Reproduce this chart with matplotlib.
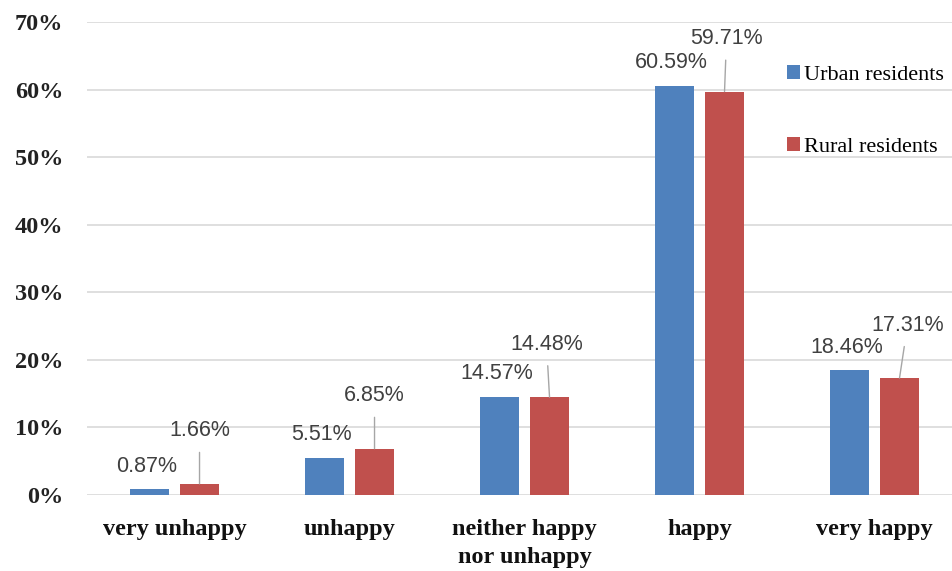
import numpy as np
import matplotlib
matplotlib.use("Agg")
import matplotlib.pyplot as plt

# data
categories = ["very unhappy", "unhappy", "neither happy\nnor unhappy", "happy", "very happy"]
urban = [0.87, 5.51, 14.57, 60.59, 18.46]
rural = [1.66, 6.85, 14.48, 59.71, 17.31]
y_ticks = [0, 10, 20, 30, 40, 50, 60, 70]

blue = "#4F81BD"
red = "#C0504D"

fig = plt.figure(figsize=(9.52, 5.71), dpi=100)
ax = fig.add_axes([87 / 952, 76 / 571, 875 / 952, 473 / 571])

x = np.arange(len(categories))
w = 0.22
off = 0.143
ax.bar(x - off, urban, w, color=blue, label="Urban residents", zorder=3)
ax.bar(x + off, rural, w, color=red, label="Rural residents", zorder=3)

# value labels: urban just above, rural higher with a leader line
for xi, v in zip(x, urban):
    ax.annotate(f"{v:.2f}%", (xi - off, v), xytext=(-3, 23), textcoords="offset pixels",
                ha="center", va="center", fontsize=15.5, family="Liberation Sans", color="#404040")
rural_dx = [0, 0, -3, 2, 8]
for xi, v, dx in zip(x, rural, rural_dx):
    ax.annotate(f"{v:.2f}%", (xi + off, v), xytext=(dx, 53), textcoords="offset pixels",
                ha="center", va="center", fontsize=15.5, family="Liberation Sans", color="#404040",
                arrowprops=dict(arrowstyle="-", color="#a6a6a6", lw=1, shrinkA=6, shrinkB=0))

ax.set_xlim(-0.5, len(categories) - 0.5)
ax.set_ylim(0, 70)
ax.set_yticks(y_ticks)
ax.set_yticklabels([f"{t}%" for t in y_ticks], family="Liberation Serif", fontsize=17.5, fontweight="bold",
                   color="#222222")
ax.set_xticks(x)
ax.set_xticklabels(categories, family="Liberation Serif", fontsize=17.5, fontweight="bold",
                   color="#111111", linespacing=1.45)
ax.tick_params(axis="y", length=0, pad=17)
ax.tick_params(axis="x", length=0, pad=17)
ax.grid(axis="y", color="#d9d9d9", lw=1.2, zorder=0)
for s in ax.spines.values():
    s.set_visible(False)

ax.legend(loc="upper left", bbox_to_anchor=(780 / 952, 1 - 58 / 571), bbox_transform=fig.transFigure,
          frameon=False, handlelength=0.6, handleheight=0.6, handletextpad=0.2, labelspacing=2.35,
          borderaxespad=0, borderpad=0.3, prop={"family": "Liberation Serif", "size": 16})

fig.savefig("out.png", dpi=100)
